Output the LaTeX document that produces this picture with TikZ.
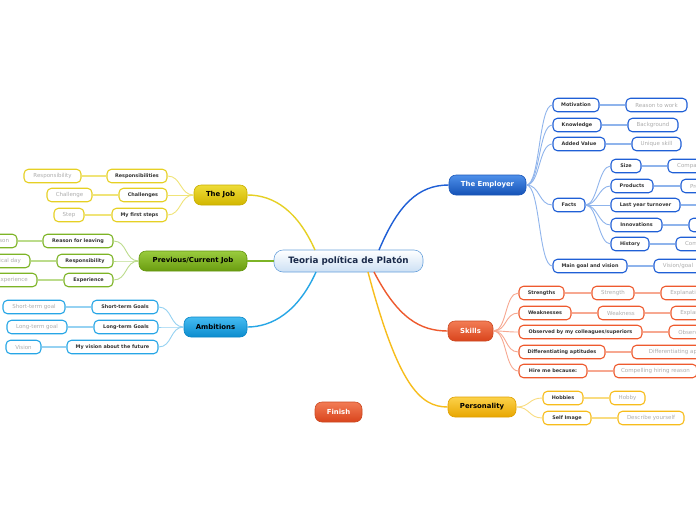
\documentclass[tikz,border=0pt]{standalone}
\usepackage{fontspec}
\setmainfont{DejaVu Sans}
\definecolor{txtc}{HTML}{333333}
\definecolor{leafc}{HTML}{ADADAD}
\definecolor{empT}{HTML}{4F90EA}\definecolor{empB}{HTML}{1452B6}\definecolor{empD}{HTML}{1A56B8}
\definecolor{empC}{HTML}{1F5FD6}\definecolor{empL}{HTML}{8FB4EC}
\definecolor{skT}{HTML}{F27C55}\definecolor{skB}{HTML}{D9441C}\definecolor{skD}{HTML}{CC4A22}
\definecolor{skC}{HTML}{EE5A2E}\definecolor{skL}{HTML}{F7A891}
\definecolor{peT}{HTML}{FCD24A}\definecolor{peB}{HTML}{E8A600}\definecolor{peD}{HTML}{E0A000}
\definecolor{peC}{HTML}{F7BD1C}\definecolor{peL}{HTML}{F9DC80}
\definecolor{amT}{HTML}{45BCF2}\definecolor{amB}{HTML}{0B8CCE}\definecolor{amD}{HTML}{0A86C6}
\definecolor{amC}{HTML}{27A6E6}\definecolor{amL}{HTML}{96D2F2}
\definecolor{prT}{HTML}{9ACC3E}\definecolor{prB}{HTML}{6A9C10}\definecolor{prD}{HTML}{669810}
\definecolor{prC}{HTML}{7DB426}\definecolor{prL}{HTML}{BCDC8C}
\definecolor{jbT}{HTML}{EEDC38}\definecolor{jbB}{HTML}{D2B600}\definecolor{jbD}{HTML}{C8AE00}
\definecolor{jbC}{HTML}{E6D024}\definecolor{jbL}{HTML}{F0E478}
\definecolor{ceT}{HTML}{FFFFFF}\definecolor{ceB}{HTML}{CCE0F4}\definecolor{ceD}{HTML}{6AA2DC}
\definecolor{ceTxt}{HTML}{1A2A4A}
\tikzset{
 x=1pt,y=-1pt,
 cbox/.style={draw=#1, fill=white, rounded corners=4.5pt, line width=1.1pt, minimum height=13.5pt, inner xsep=2pt, inner ysep=0pt, font=\fontsize{4.9}{5}\selectfont\bfseries, text=txtc},
 lbox/.style={cbox=#1, font=\fontsize{5.5}{6}\selectfont, text=leafc},
 mbox/.style={rounded corners=7pt, minimum height=20pt, inner xsep=2pt, inner ysep=0pt, font=\fontsize{6.9}{7}\selectfont\bfseries, line width=0.6pt},
 conn/.style={draw=#1, line width=0.9pt},
 lconn/.style={draw=#1, line width=1.3pt},
 mconn/.style={draw=#1, line width=1.4pt},
}
\begin{document}
\begin{tikzpicture}
\useasboundingbox (0,0) rectangle (696,520);
\clip (0,0) rectangle (696,520);
\fill[white] (0,0) rectangle (696,520);
% ---------- main nodes
\node[mbox, draw=ceD, top color=ceT, bottom color=ceB, text=ceTxt, minimum width=149pt, minimum height=22pt, rounded corners=9pt, font=\fontsize{8.8}{9}\selectfont\bfseries] (ctr) at (348.5,261) {Teoria política de Platón};
\node[mbox, draw=empD, top color=empT, bottom color=empB, text=white, minimum width=77pt] (emp) at (487.5,185) {The Employer};
\node[mbox, draw=skD, top color=skT, bottom color=skB, text=white, minimum width=45pt] (sk) at (470.5,331) {Skills};
\node[mbox, draw=peD, top color=peT, bottom color=peB, text=black, minimum width=68pt] (pe) at (482,407) {Personality};
\node[mbox, draw=skD, top color=skT, bottom color=skB, text=white, minimum width=47pt] (fin) at (338.5,412) {Finish};
\node[mbox, draw=amD, top color=amT, bottom color=amB, text=black, minimum width=63pt] (am) at (215.5,327) {Ambitions};
\node[mbox, draw=prD, top color=prT, bottom color=prB, text=black, minimum width=108pt] (pr) at (193,261) {Previous/Current Job};
\node[mbox, draw=jbD, top color=jbT, bottom color=jbB, text=black, minimum width=53pt] (jb) at (220.5,195) {The Job};
% ---------- central connectors
\coordinate (cE) at (379,250);
\coordinate (cS) at (374,272);
\coordinate (cP) at (368,272);
\coordinate (cJ) at (315,250);
\coordinate (cA) at (316,272);
\draw[mconn=empC] (cE) .. controls (398,205) and (418,185) .. (emp.west);
\draw[mconn=skC] (cS) .. controls (398,318) and (420,331) .. (sk.west);
\draw[mconn=peC] (cP) .. controls (398,385) and (420,407) .. (pe.west);
\draw[mconn=jbC] (cJ) .. controls (298,212) and (275,195) .. (jb.east);
\draw[mconn=amC] (cA) .. controls (298,312) and (272,327) .. (am.east);
\draw[mconn=prC] (ctr.west) -- (pr.east);
% ---------- Employer branch
\node[cbox=empC, minimum width=46pt] (mot) at (576,105) {Motivation};
\node[lbox=empC, minimum width=61pt] (motl) at (656.5,105) {Reason to work};
\node[cbox=empC, minimum width=48pt] (kno) at (577,125) {Knowledge};
\node[lbox=empC, minimum width=50pt] (knol) at (653,125) {Background};
\node[cbox=empC, minimum width=52pt] (add) at (579,144) {Added Value};
\node[lbox=empC, minimum width=49pt] (addl) at (656.5,144) {Unique skill};
\node[cbox=empC, minimum width=32pt] (fac) at (569,205) {Facts};
\node[cbox=empC, minimum width=30pt] (siz) at (626,166) {Size};
\node[lbox=empC, minimum width=57pt] (sizl) at (696.5,166) {Company size};
\node[cbox=empC, minimum width=42pt] (pro) at (632,186) {Products};
\node[lbox=empC, minimum width=39pt] (prol) at (700.5,186) {Product};
\node[cbox=empC, minimum width=69pt] (tur) at (645.5,205) {Last year turnover};
\node[lbox=empC, minimum width=50pt] (turl) at (731,205) {Turnover};
\node[cbox=empC, minimum width=51pt] (inn) at (636.5,225) {Innovations};
\node[lbox=empC, minimum width=51pt] (innl) at (714.5,225) {Innovation};
\node[cbox=empC, minimum width=38pt] (his) at (630,244) {History};
\node[lbox=empC, minimum width=65pt] (hisl) at (708.5,244) {Company history};
\node[cbox=empC, minimum width=74pt] (gol) at (590,266) {Main goal and vision};
\node[lbox=empC, minimum width=48pt] (goll) at (678,266) {Vision/goal};
\foreach \c in {mot,kno,add,fac,gol}
  \draw[conn=empL] (emp.east) .. controls +(14,0) and +(-14,0) .. (\c.west);
\foreach \c in {siz,pro,tur,inn,his}
  \draw[conn=empL] (fac.east) .. controls +(12,0) and +(-12,0) .. (\c.west);
\foreach \a/\b in {mot/motl,kno/knol,add/addl,siz/sizl,pro/prol,tur/turl,inn/innl,his/hisl,gol/goll}
  \draw[lconn=empL] (\a.east) -- (\b.west);
% ---------- Skills branch
\node[cbox=skC, minimum width=45pt] (str) at (541.5,293) {Strengths};
\node[lbox=skC, minimum width=42pt] (strl) at (613,293) {Strength};
\node[lbox=skC, minimum width=51pt] (strm) at (686.5,293) {Explanation};
\node[cbox=skC, minimum width=52pt] (wea) at (545,313) {Weaknesses};
\node[lbox=skC, minimum width=46pt] (weal) at (621,313) {Weakness};
\node[lbox=skC, minimum width=51pt] (weam) at (696.5,313) {Explanation};
\node[cbox=skC, minimum width=123pt] (obs) at (580.5,332) {Observed by my colleagues/superiors};
\node[lbox=skC, minimum width=52pt] (obsl) at (695,332) {Observation};
\node[cbox=skC, minimum width=86pt] (dif) at (562,352) {Differentiating aptitudes};
\node[lbox=skC, minimum width=98pt] (difl) at (681,352) {Differentiating aptitude};
\node[cbox=skC, minimum width=68pt] (hir) at (553,371) {Hire me because:};
\node[lbox=skC, minimum width=83pt] (hirl) at (655.5,371) {Compelling hiring reason};
\foreach \c in {str,wea,obs,dif,hir}
  \draw[conn=skL] (sk.east) .. controls +(14,0) and +(-14,0) .. (\c.west);
\foreach \a/\b in {str/strl,strl/strm,wea/weal,weal/weam,obs/obsl,dif/difl,hir/hirl}
  \draw[lconn=skL] (\a.east) -- (\b.west);
% ---------- Personality branch
\node[cbox=peC, minimum width=40pt] (hob) at (563,398) {Hobbies};
\node[lbox=peC, minimum width=35pt] (hobl) at (627.5,398) {Hobby};
\node[cbox=peC, minimum width=48pt] (sel) at (567,418) {Self Image};
\node[lbox=peC, minimum width=66pt] (sell) at (651,418) {Describe yourself};
\foreach \c in {hob,sel}
  \draw[conn=peL] (pe.east) .. controls +(14,0) and +(-14,0) .. (\c.west);
\foreach \a/\b in {hob/hobl,sel/sell}
  \draw[lconn=peL] (\a.east) -- (\b.west);
% ---------- The Job branch
\node[cbox=jbC, minimum width=60pt] (jr) at (137,176) {Responsibilities};
\node[lbox=jbC, minimum width=57pt] (jrl) at (52.5,176) {Responsibility};
\node[cbox=jbC, minimum width=48pt] (jc) at (143,195) {Challenges};
\node[lbox=jbC, minimum width=45pt] (jcl) at (69.5,195) {Challenge};
\node[cbox=jbC, minimum width=55pt] (js) at (139.5,215) {My first steps};
\node[lbox=jbC, minimum width=30pt] (jsl) at (69,215) {Step};
\foreach \c in {jr,jc,js}
  \draw[conn=jbL] (jb.west) .. controls +(-14,0) and +(14,0) .. (\c.east);
\foreach \a/\b in {jr/jrl,jc/jcl,js/jsl}
  \draw[lconn=jbL] (\a.west) -- (\b.east);
% ---------- Previous/Current Job branch
\node[cbox=prC, minimum width=70pt] (pra) at (78,241) {Reason for leaving};
\node[lbox=prC, minimum width=36pt] (pral) at (-1,241) {Reason};
\node[cbox=prC, minimum width=56pt] (prb) at (85,261) {Responsibility};
\node[lbox=prC, minimum width=49pt] (prbl) at (5.5,261) {Typical day};
\node[cbox=prC, minimum width=49pt] (prc) at (88.5,280) {Experience};
\node[lbox=prC, minimum width=49pt] (prcl) at (12.5,280) {Experience};
\foreach \c in {pra,prb,prc}
  \draw[conn=prL] (pr.west) .. controls +(-14,0) and +(14,0) .. (\c.east);
\foreach \a/\b in {pra/pral,prb/prbl,prc/prcl}
  \draw[lconn=prL] (\a.west) -- (\b.east);
% ---------- Ambitions branch
\node[cbox=amC, minimum width=66pt] (asg) at (125,307) {Short-term Goals};
\node[lbox=amC, minimum width=62pt] (asgl) at (34,307) {Short-term goal};
\node[cbox=amC, minimum width=64pt] (alg) at (126,327) {Long-term Goals};
\node[lbox=amC, minimum width=60pt] (algl) at (37,327) {Long-term goal};
\node[cbox=amC, minimum width=91pt] (avs) at (112.5,347) {My vision about the future};
\node[lbox=amC, minimum width=35pt] (avsl) at (23.5,347) {Vision};
\foreach \c in {asg,alg,avs}
  \draw[conn=amL] (am.west) .. controls +(-14,0) and +(14,0) .. (\c.east);
\foreach \a/\b in {asg/asgl,alg/algl,avs/avsl}
  \draw[lconn=amL] (\a.west) -- (\b.east);
\end{tikzpicture}
\end{document}
